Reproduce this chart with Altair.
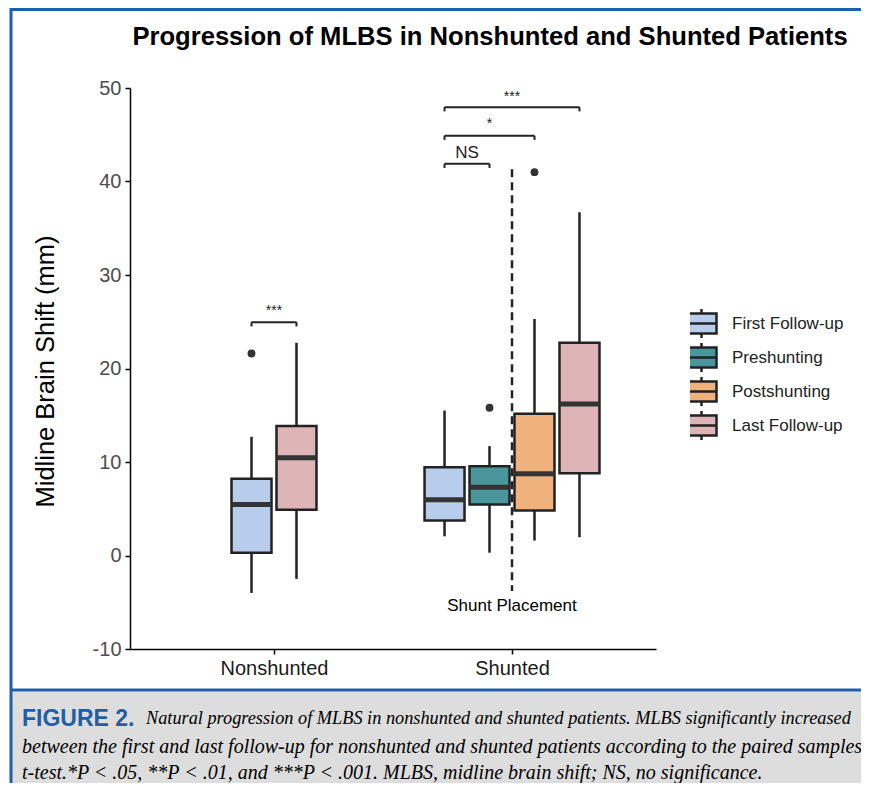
import altair as alt
import pandas as pd

# ---------------- data ----------------
groups = ["Nonshunted", "Nonshunted", "Shunted", "Shunted", "Shunted", "Shunted"]
group_pos = [1, 1, 2, 2, 2, 2]
series = ["First Follow-up", "Last Follow-up", "First Follow-up",
          "Preshunting", "Postshunting", "Last Follow-up"]
slots = [-0.5, 0.5, -1.5, -0.5, 0.5, 1.5]
whisker_low = [-4.0, -2.5, 2.05, 0.3, 1.6, 1.95]
q1 = [0.3, 4.9, 3.75, 5.45, 4.8, 8.8]
median = [5.45, 10.45, 5.95, 7.3, 8.75, 16.2]
q3 = [8.2, 13.85, 9.45, 9.55, 15.15, 22.75]
whisker_high = [12.7, 22.75, 15.5, 11.7, 25.3, 36.7]

outlier_group_pos = [1, 2, 2]
outlier_slots = [-0.5, -0.5, 0.5]
outlier_values = [21.6, 15.8, 41.0]

series_order = ["First Follow-up", "Preshunting", "Postshunting", "Last Follow-up"]
series_colors = ["#b8cdeb", "#4b969b", "#f0b27d", "#deb4b6"]

bracket_group_pos = [1, 2, 2, 2]
bracket_from = [-0.5, -1.5, -1.5, -1.5]
bracket_to = [0.5, -0.5, 0.5, 1.5]
bracket_y = [24.95, 41.9, 44.9, 47.95]
bracket_labels = ["***", "NS", "*", "***"]
bracket_label_y = [26.2, 43.0, 46.1, 49.0]

shunt_pos = [2]
shunt_top = [41.3]
shunt_bottom = [-3.8]
shunt_label_y = [-5.45]
shunt_label = ["Shunt Placement"]

y_ticks = [-10, 0, 10, 20, 30, 40, 50]
x_ticks = [1, 2]

title_text = "Progression of MLBS in Nonshunted and Shunted Patients"
y_title = "Midline Brain Shift (mm)"
caption_head = "FIGURE 2."
caption_lines = [
    "Natural progression of MLBS in nonshunted and shunted patients. MLBS significantly increased",
    "between the first and last follow-up for nonshunted and shunted patients according to the paired samples",
    "t-test.*P < .05, **P < .01, and ***P < .001. MLBS, midline brain shift; NS, no significance.",
]

# ---------------- tables ----------------
boxes = pd.DataFrame({
    "group": groups, "gpos": group_pos, "series": series, "slot": slots,
    "low": whisker_low, "q1": q1, "median": median, "q3": q3, "high": whisker_high,
})
outliers = pd.DataFrame({"gpos": outlier_group_pos, "slot": outlier_slots, "value": outlier_values})
brackets = pd.DataFrame({
    "gpos": bracket_group_pos, "from": bracket_from, "to": bracket_to,
    "by": bracket_y, "label": bracket_labels, "ly": bracket_label_y,
})
shunt = pd.DataFrame({"pos": shunt_pos, "top": shunt_top, "bottom": shunt_bottom,
                      "ly": shunt_label_y, "label": shunt_label})
one = pd.DataFrame({"k": [0]})

DODGE = 0.189   # spacing between dodged boxes (x units)
HALF = 0.084    # half box width (x units)
TIP = 0.45      # bracket tip length (y units)

W, H = 526, 561
FONT = "Liberation Sans"
INK = "#222222"

xscale = alt.Scale(domain=[0.395, 2.605], nice=False, zero=False)
yscale = alt.Scale(domain=[-10, 50], nice=False, zero=False)
xaxis = alt.Axis(values=x_ticks, labelExpr="datum.value == 1 ? 'Nonshunted' : 'Shunted'",
                 title=None, grid=False, labelFontSize=20, labelFont=FONT, labelColor="#1a1a1a",
                 tickSize=5, tickColor="black", tickWidth=1.5, domainColor="black",
                 domainWidth=1.5, labelPadding=4)
yaxis = alt.Axis(values=y_ticks, labelExpr="'' + datum.value", title=y_title, grid=False,
                 labelFontSize=20, labelFont=FONT,
                 labelColor="#4d4d4d", tickSize=5, tickColor="black", tickWidth=1.5,
                 domainColor="black", domainWidth=1.5, labelPadding=4,
                 titleFontSize=25.5, titleFont=FONT, titleFontWeight="normal", titleColor="black",
                 titleX=-85, titleY=283, titleAngle=270, titleAlign="center",
                 titleBaseline="middle")


def X(field):
    return alt.X(field, type="quantitative", scale=xscale, axis=xaxis)


def Y(field):
    return alt.Y(field, type="quantitative", scale=yscale, axis=yaxis)


base = alt.Chart(boxes).transform_calculate(
    pos=f"datum.gpos + datum.slot * {DODGE}"
).transform_calculate(
    x1=f"datum.pos - {HALF}", x2=f"datum.pos + {HALF}"
)

legend_path = "M-1.5,-1H1.5V1H-1.5Z M-1.5,0H1.5 M0,-1V-1.45 M0,1V1.45"

whiskers = base.mark_rule(color=INK, strokeWidth=2.5).encode(
    x=X("pos"), y=Y("low"), y2="high:Q")
box = base.mark_bar(stroke=INK, strokeWidth=2.5, opacity=1).encode(
    x=X("x1"), x2="x2:Q", y=Y("q1"), y2="q3:Q",
    color=alt.Color("series:N", scale=alt.Scale(domain=series_order, range=series_colors),
                    legend=alt.Legend(title=None, orient="none", legendX=560, legendY=220,
                                      symbolType=legend_path, symbolSize=400,
                                      symbolStrokeWidth=2.5, symbolStrokeColor=INK,
                                      symbolOpacity=1, labelFontSize=17, labelFont=FONT,
                                      labelColor=INK, labelOffset=19, rowPadding=3,
                                      clipHeight=31, padding=0)))
medians = base.mark_rule(color="#333333", strokeWidth=5, strokeCap="butt").encode(
    x=X("x1"), x2="x2:Q", y=Y("median"))

points = alt.Chart(outliers).transform_calculate(
    pos=f"datum.gpos + datum.slot * {DODGE}"
).mark_circle(size=62, color="#333333", opacity=1).encode(x=X("pos"), y=Y("value"))

bbase = alt.Chart(brackets).transform_calculate(
    bx1=f"datum.gpos + datum.from * {DODGE}",
    bx2=f"datum.gpos + datum.to * {DODGE}",
).transform_calculate(
    mid="(datum.bx1 + datum.bx2) / 2", tip=f"datum.by - {TIP}"
)
bracket_lines = bbase.mark_rule(color=INK, strokeWidth=2).encode(
    x=X("bx1"), x2="bx2:Q", y=Y("by"))
bracket_tips = bbase.transform_fold(["bx1", "bx2"], as_=["end", "bx"]).mark_rule(
    color=INK, strokeWidth=2).encode(x=X("bx"), y=Y("by"), y2="tip:Q")
star_text = bbase.transform_filter("datum.label != 'NS'").mark_text(
    fontSize=14, font=FONT, color=INK, baseline="middle", align="center").encode(
    x=X("mid"), y=Y("ly"), text="label:N")
ns_text = bbase.transform_filter("datum.label == 'NS'").mark_text(
    fontSize=17, font=FONT, color=INK, baseline="middle", align="center").encode(
    x=X("mid"), y=Y("ly"), text="label:N")

shunt_line = alt.Chart(shunt).mark_rule(color=INK, strokeWidth=2.5, strokeDash=[8, 5]).encode(
    x=X("pos"), y=Y("top"), y2="bottom:Q")
shunt_text = alt.Chart(shunt).mark_text(fontSize=17, font=FONT, color="black",
                                         baseline="middle", align="center").encode(
    x=X("pos"), y=Y("ly"), text="label:N")

# ---------------- decorations (frame, title, caption) ----------------
BLUE = "#1f5fa8"
caption_bg = alt.Chart(one).mark_rect(color="#dddddd").encode(
    x=alt.value(-118), x2=alt.value(731), y=alt.value(603.5), y2=alt.value(700))
frame_left = alt.Chart(one).mark_rule(color=BLUE, strokeWidth=3).encode(
    x=alt.value(-119), y=alt.value(-80), y2=alt.value(700))
frame_top = alt.Chart(one).mark_rule(color=BLUE, strokeWidth=3).encode(
    x=alt.value(-120), x2=alt.value(731), y=alt.value(-78.5))
frame_sep = alt.Chart(one).mark_rule(color=BLUE, strokeWidth=3).encode(
    x=alt.value(-120), x2=alt.value(731), y=alt.value(602))

title = alt.Chart(one).mark_text(fontSize=25.6, fontWeight="bold", font=FONT, color="black",
                                 align="center", baseline="middle").encode(
    x=alt.value(360), y=alt.value(-51), text=alt.value(title_text))

cap_head = alt.Chart(one).mark_text(fontSize=23, fontWeight="bold",
                                    font="Liberation Sans Narrow, Liberation Sans",
                                    color=BLUE, align="left", baseline="middle").encode(
    x=alt.value(-108), y=alt.value(631), text=alt.value(caption_head))
cap1 = alt.Chart(one).mark_text(fontSize=18.3, fontStyle="italic", font="Liberation Serif",
                                color="black", align="left", baseline="middle").encode(
    x=alt.value(16), y=alt.value(631), text=alt.value(caption_lines[0]))
cap2 = alt.Chart(one).mark_text(fontSize=20, fontStyle="italic", font="Liberation Serif",
                                color="black", align="left", baseline="middle").encode(
    x=alt.value(-108), y=alt.value(659), text=alt.value(caption_lines[1]))
cap3 = alt.Chart(one).mark_text(fontSize=20, fontStyle="italic", font="Liberation Serif",
                                color="black", align="left", baseline="middle").encode(
    x=alt.value(-108), y=alt.value(685), text=alt.value(caption_lines[2]))

chart = alt.layer(
    caption_bg, frame_left, frame_top, frame_sep, title, cap_head, cap1, cap2, cap3,
    whiskers, box, medians, points, shunt_line, shunt_text,
    bracket_lines, bracket_tips, star_text, ns_text,
).properties(
    width=W, height=H,
    autosize=alt.AutoSizeParams(type="none"),
    padding={"left": 122, "top": 80, "right": 205, "bottom": 134},
    background="white",
).configure(font=FONT).configure_view(stroke=None)

chart.save("out.html", embed_options={"renderer": "svg", "actions": False})
